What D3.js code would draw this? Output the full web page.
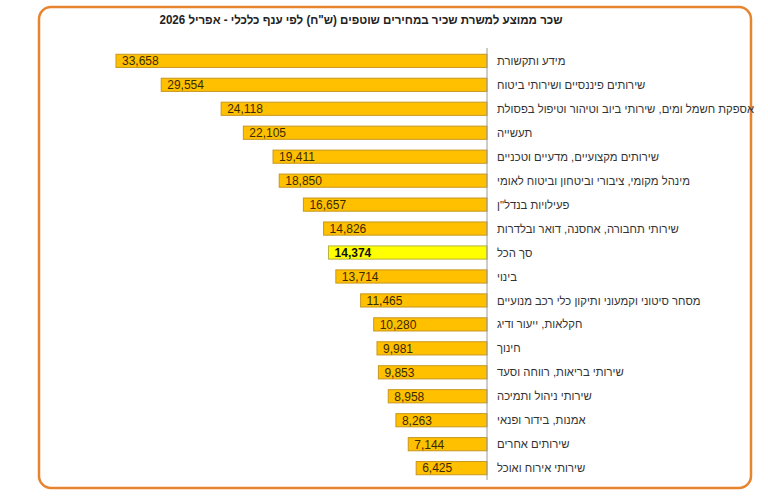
<!DOCTYPE html>
<html lang="he">
<head>
<meta charset="UTF-8">
<title>שכר ממוצע</title>
<script src="https://cdnjs.cloudflare.com/ajax/libs/d3/7.8.5/d3.min.js"></script>
<style>
    body { margin: 0; background: #fff; font-family: "Liberation Sans", Arial, sans-serif; }
    .bar { fill: #FFC000; stroke: #C8961E; stroke-width: 1; }
    .bar.total { fill: #FFFF00; stroke: #B8B040; }
    .val { font-size: 12px; fill: #3a2a00; }
    .cat { font-size: 11.3px; fill: #333; }
</style>
</head>
<body>
<script>
    var categories = [
        "מידע ותקשורת",
        "שירותים פיננסיים ושירותי ביטוח",
        "אספקת חשמל ומים, שירותי ביוב וטיהור וטיפול בפסולת",
        "תעשייה",
        "שירותים מקצועיים, מדעיים וטכניים",
        "מינהל מקומי, ציבורי וביטחון וביטוח לאומי",
        "פעילויות בנדל\"ן",
        "שירותי תחבורה, אחסנה, דואר ובלדרות",
        "סך הכל",
        "בינוי",
        "מסחר סיטוני וקמעוני ותיקון כלי רכב מנועיים",
        "חקלאות, ייעור ודיג",
        "חינוך",
        "שירותי בריאות, רווחה וסעד",
        "שירותי ניהול ותמיכה",
        "אמנות, בידור ופנאי",
        "שירותים אחרים",
        "שירותי אירוח ואוכל"
    ];
    var values = [33658, 29554, 24118, 22105, 19411, 18850, 16657, 14826, 14374,
        13714, 11465, 10280, 9981, 9853, 8958, 8263, 7144, 6425];
    var totalLabel = "סך הכל";
    var title = "שכר ממוצע למשרת שכיר במחירים  שוטפים (ש\"ח) לפי ענף כלכלי - אפריל 2026";

    var W = 768, H = 496;
    var axisX = 487;

    var svg = d3.select("body").append("svg")
        .attr("width", W).attr("height", H);

    // orange frame
    svg.append("rect")
        .attr("x", 39).attr("y", 7)
        .attr("width", 712).attr("height", 481)
        .attr("rx", 12).attr("ry", 12)
        .style("fill", "none")
        .style("stroke", "#E8832E")
        .style("stroke-width", 2.5);

    svg.append("text")
        .attr("x", 361).attr("y", 24)
        .attr("text-anchor", "middle")
        .attr("direction", "rtl")
        .attr("textLength", 403)
        .attr("lengthAdjust", "spacingAndGlyphs")
        .style("font-size", "12px")
        .style("font-weight", "bold")
        .style("fill", "#222")
        .text(title);

    var x = d3.scaleLinear().domain([0, 35000]).range([axisX, axisX - 35000 * 0.011023]);
    var y = d3.scaleBand().domain(categories).range([49, 480]).paddingInner(0.45).paddingOuter(0.22);

    var rows = svg.selectAll(".row").data(categories).enter().append("g").attr("class", "row");

    rows.append("rect")
        .attr("class", function(d) { return d === totalLabel ? "bar total" : "bar"; })
        .attr("x", function(d, i) { return x(values[i]); })
        .attr("y", function(d) { return y(d); })
        .attr("width", function(d, i) { return x(0) - x(values[i]); })
        .attr("height", y.bandwidth());

    rows.append("text")
        .attr("class", "val")
        .attr("x", function(d, i) { return x(values[i]) + 6; })
        .attr("y", function(d) { return y(d) + y.bandwidth() / 2; })
        .attr("dy", "0.36em")
        .style("font-weight", function(d) { return d === totalLabel ? "bold" : "normal"; })
        .style("fill", function(d) { return d === totalLabel ? "#111" : null; })
        .text(function(d, i) { return d3.format(",")(values[i]); });

    rows.append("text")
        .attr("class", "cat")
        .attr("x", axisX + 10)
        .attr("y", function(d) { return y(d) + y.bandwidth() / 2; })
        .attr("dy", "0.36em")
        .attr("direction", "rtl")
        .attr("text-anchor", "end")
        .text(function(d) { return d; });

    // axis line
    svg.append("line")
        .attr("x1", axisX).attr("x2", axisX)
        .attr("y1", 48).attr("y2", 480)
        .style("stroke", "#999")
        .style("stroke-width", 1);
</script>
</body>
</html>
